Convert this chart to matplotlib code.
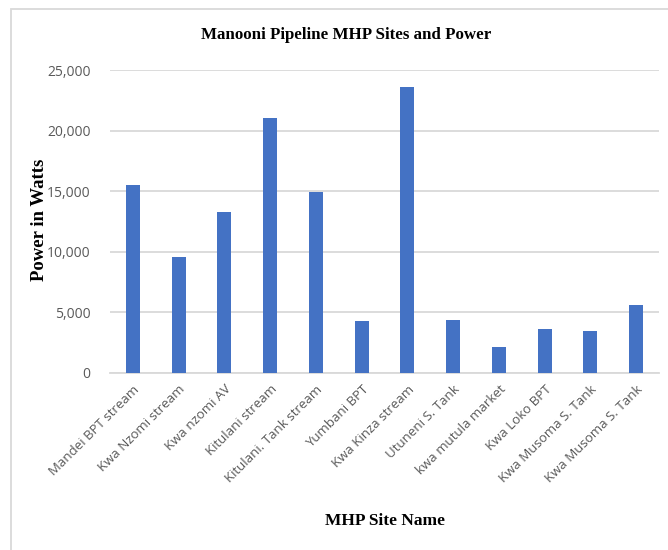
import matplotlib.pyplot as plt
from matplotlib.ticker import FuncFormatter, MultipleLocator
from matplotlib.patches import Rectangle

sites = [
    "Mandei BPT stream", "Kwa Nzomi stream", "Kwa nzomi AV", "Kitulani stream",
    "Kitulani. Tank stream", "Yumbani BPT", "Kwa Kinza stream", "Utuneni S. Tank",
    "kwa mutula market", "Kwa Loko BPT", "Kwa Musoma S. Tank", "Kwa Musoma S. Tank",
]
power_watts = [15500, 9560, 13270, 21040, 14970, 4260, 23620, 4400, 2120, 3660, 3440, 5640]

title = "Manooni Pipeline MHP Sites and Power"
ylabel = "Power in Watts"
xlabel = "MHP Site Name"

bar_color = "#4472C4"
grid_color = "#D9D9D9"
tick_color = "#595959"

fig = plt.figure(figsize=(6.68, 5.5), dpi=100)
fig.patch.set_facecolor("white")

# light chart-area frame (runs off the right and bottom edges)
fig.patches.append(Rectangle((11 / 668, -0.05), 1.0, 1 - 9 / 550 + 0.05, transform=fig.transFigure,
                             fill=False, edgecolor="#D9D9D9", linewidth=1.3))

ax = fig.add_axes([110 / 668, 1 - 373 / 550, 549 / 668, 303 / 550])
x = range(len(sites))
ax.bar(x, power_watts, width=0.31, color=bar_color, zorder=3)

ax.set_xlim(-0.5, len(sites) - 0.5)
ax.set_ylim(0, 25000)
ax.yaxis.set_major_locator(MultipleLocator(5000))
ax.yaxis.set_major_formatter(FuncFormatter(lambda v, p: f"{int(v):,}"))
ax.grid(axis="y", color=grid_color, linewidth=1.3, zorder=0)
ax.set_axisbelow(True)

for s in ("top", "right", "left"):
    ax.spines[s].set_visible(False)
ax.spines["bottom"].set_color(grid_color)
ax.spines["bottom"].set_linewidth(1.3)
ax.tick_params(axis="both", length=0, colors=tick_color)
ax.tick_params(axis="y", pad=14, labelsize=10)
ax.tick_params(axis="x", pad=7)

ax.set_xticks(list(x))
ax.set_xticklabels(sites, rotation=45, ha="right", rotation_mode="anchor",
                   fontfamily="Open Sans", color=tick_color, fontsize=9.5)
for lab in ax.get_yticklabels():
    lab.set_fontfamily("Open Sans")

fig.text(346 / 668, 1 - 35 / 550, title, ha="center", va="center",
         fontfamily="Liberation Serif", fontweight="bold", fontsize=12.2)
fig.text(40 / 668, 1 - 220 / 550, ylabel, ha="center", va="center", rotation=90,
         fontfamily="Liberation Serif", fontweight="bold", fontsize=13.5)
fig.text(385 / 668, 1 - 521 / 550, xlabel, ha="center", va="center",
         fontfamily="Liberation Serif", fontweight="bold", fontsize=12.5)

fig.savefig("out.png", dpi=100, facecolor="white")
